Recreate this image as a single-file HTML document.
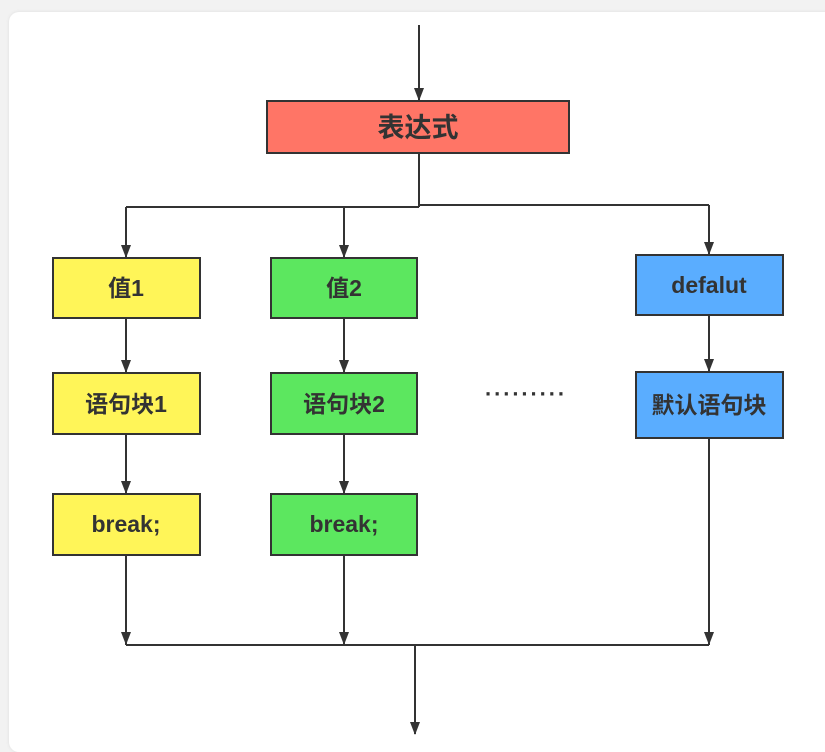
<!DOCTYPE html>
<html><head><meta charset="utf-8"><style>
html,body{margin:0;padding:0;background:#f2f2f2;width:825px;height:743px;overflow:hidden}
.card{position:absolute;left:9px;top:12px;width:830px;height:740px;background:#fff;border-radius:10px;box-shadow:0 0 3px #ddd}
svg{position:absolute;left:0;top:0}
text{font-family:"Liberation Sans","Noto Sans CJK SC",sans-serif;font-weight:bold;fill:#333;text-anchor:middle;dominant-baseline:central}
</style></head><body>
<div class="card"></div>
<svg width="825" height="743" viewBox="0 0 825 743">
<g stroke="#333" stroke-width="2" fill="none">
<path d="M419 25 V100"/>
<path d="M419 153 V207 M126 207 H419 M419 205 H709"/>
<path d="M126 207 V257 M344 207 V257 M709 205 V254"/>
<path d="M126 318 V372 M344 318 V372 M709 315 V371"/>
<path d="M126 434 V493 M344 434 V493"/>
<path d="M126 555 V645 M344 555 V645 M709 438 V645"/>
<path d="M126 645 H709 M415 645 V734"/>
</g>
<g fill="#333">
<path d="M414 88 L419 101 L424 88Z"/>
<path d="M121 245 L126 258 L131 245Z"/><path d="M339 245 L344 258 L349 245Z"/><path d="M704 242 L709 255 L714 242Z"/>
<path d="M121 360 L126 373 L131 360Z"/><path d="M339 360 L344 373 L349 360Z"/><path d="M704 359 L709 372 L714 359Z"/>
<path d="M121 481 L126 494 L131 481Z"/><path d="M339 481 L344 494 L349 481Z"/>
<path d="M121 632 L126 645 L131 632Z"/><path d="M339 632 L344 645 L349 632Z"/><path d="M704 632 L709 645 L714 632Z"/>
<path d="M410 722 L415 735 L420 722Z"/>
</g>
<g stroke="#333" stroke-width="2">
<rect x="267" y="101" width="302" height="52" fill="#ff7566"/>
<rect x="53" y="258" width="147" height="60" fill="#fff558"/>
<rect x="271" y="258" width="146" height="60" fill="#5ce75f"/>
<rect x="636" y="255" width="147" height="60" fill="#5aadff"/>
<rect x="53" y="373" width="147" height="61" fill="#fff558"/>
<rect x="271" y="373" width="146" height="61" fill="#5ce75f"/>
<rect x="636" y="372" width="147" height="66" fill="#5aadff"/>
<rect x="53" y="494" width="147" height="61" fill="#fff558"/>
<rect x="271" y="494" width="146" height="61" fill="#5ce75f"/>
</g>
<text x="418" y="128" font-size="27">表达式</text>
<text x="126" y="288" font-size="23">值1</text>
<text x="344" y="288" font-size="23">值2</text>
<text x="709" y="285" font-size="23">defalut</text>
<text x="126" y="404" font-size="23">语句块1</text>
<text x="344" y="404" font-size="23">语句块2</text>
<text x="709" y="405" font-size="23">默认语句块</text>
<text x="126" y="524" font-size="23">break;</text>
<text x="344" y="524" font-size="23">break;</text>
<text x="526" y="388" font-size="22" letter-spacing="3">.........</text>
</svg>
</body></html>
